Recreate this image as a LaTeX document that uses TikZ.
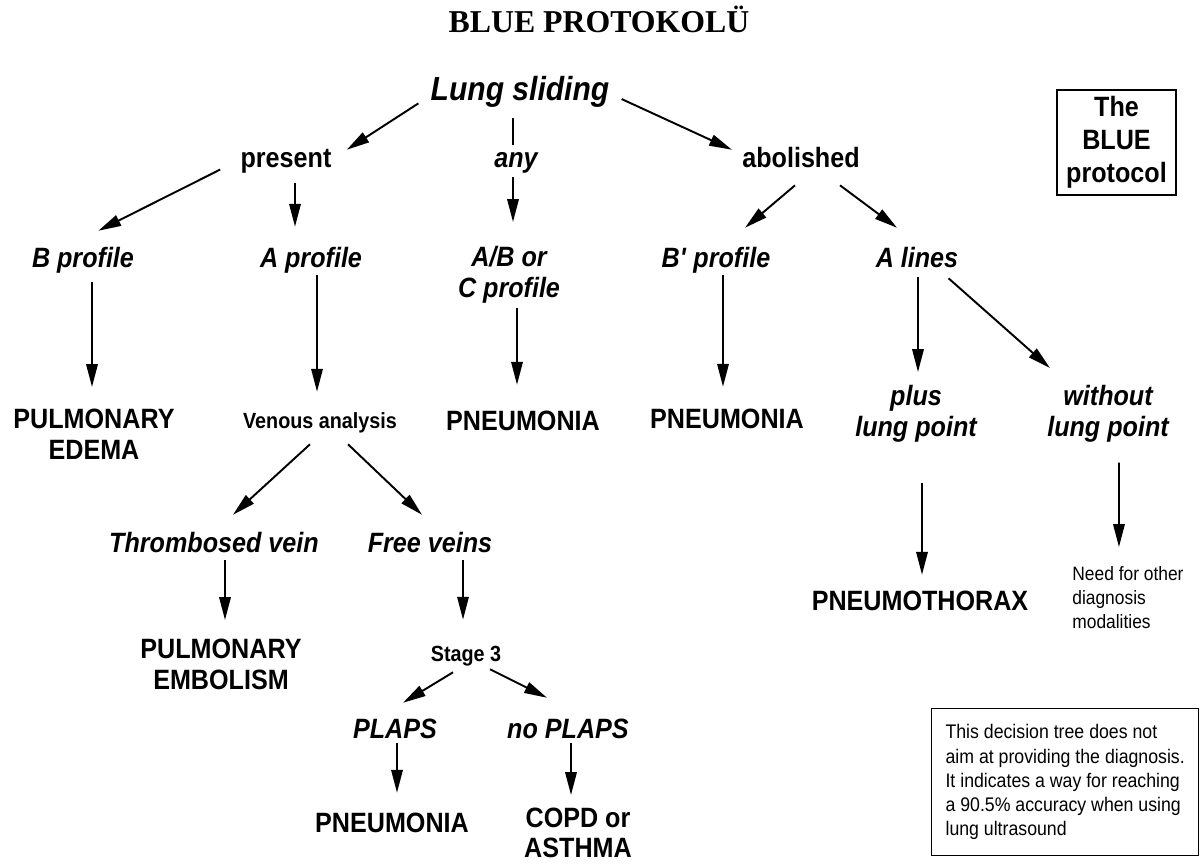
\documentclass[tikz,border=0pt]{standalone}
\usepackage{fontspec}
\usetikzlibrary{arrows.meta}
\newfontfamily\arialn[FakeStretch=0.9]{Liberation Sans}
\newfontfamily\timesr{Liberation Serif}

\begin{document}
\begin{tikzpicture}[x=0.02cm, y=-0.02cm,
    lbl/.style={inner sep=0pt, anchor=base, text height=11.9pt, text depth=3.4pt,
        font=\arialn\bfseries\fontsize{15.9}{17.6}\selectfont},
    lblit/.style={lbl, font=\arialn\bfseries\itshape\fontsize{15.9}{17.6}\selectfont},
    two/.style={inner sep=0pt, anchor=north, align=center,
        font=\arialn\bfseries\fontsize{15.9}{17.6}\selectfont},
    twoit/.style={two, font=\arialn\bfseries\itshape\fontsize{15.9}{17.6}\selectfont},
    sml/.style={inner sep=0pt, anchor=base, text height=9.1pt, text depth=2.8pt,
        font=\arialn\bfseries\fontsize{12.5}{15}\selectfont},
    arr/.style={line width=1.1pt, -{Triangle[length=13pt, width=6.5pt]}},
    ]
    \useasboundingbox (0,0) rectangle (1200,863);
    \node[anchor=base, inner sep=0pt, font=\timesr\bfseries\fontsize{18.1}{21}\selectfont] (title) at (599,32) {BLUE PROTOKOLÜ};
    % First levels
    \node[lblit, text height=14.2pt, text depth=4pt, font=\arialn\bfseries\itshape\fontsize{19}{22}\selectfont] (ls) at (520,100) {Lung sliding};
    \node[lbl] (present) at (286,167) {present}; \node[lblit] (any) at (516,167) {any}; \node[lbl] (abol) at (801,167) {abolished};
    \node[lblit] (bprof) at (83,267) {B profile}; \node[lblit] (aprof) at (311,267) {A profile};
    \node[twoit] (abprof) at (509,246) {A/B or\\C profile};
    \node[lblit] (bpprof) at (716,267) {B\textquotesingle{} profile}; \node[lblit] (alines) at (917,267) {A lines};
    % Middle
    \node[two] (pulmed) at (94,409) {PULMONARY\\EDEMA};
    \node[sml] (venous) at (320,428) {Venous analysis};
    \node[lbl] (pneua) at (523,430) {PNEUMONIA}; \node[lbl] (pneub) at (727,428) {PNEUMONIA};
    \node[twoit] (plus) at (916,385) {plus\\lung point}; \node[twoit] (without) at (1108,385) {without\\lung point};
    \node[lblit] (thromb) at (214,552) {Thrombosed vein}; \node[lblit] (free) at (430,552) {Free veins};
    \node[lbl] (pnx) at (920,610) {PNEUMOTHORAX};
    \node[inner sep=0pt, anchor=north west, align=left, font=\arialn\fontsize{11}{13.6}\selectfont] (need) at (1072,566) {Need for other\\diagnosis\\modalities};
    % Bottom
    \node[two] (pulmemb) at (221,639) {PULMONARY\\EMBOLISM};
    \node[sml] (stage) at (466,661) {Stage 3};
    \node[lblit] (plaps) at (395,738) {PLAPS}; \node[lblit] (noplaps) at (568,738) {no PLAPS};
    \node[lbl] (pneuc) at (392,832) {PNEUMONIA}; \node[two] (copd) at (578,808) {COPD or\\[-1pt]ASTHMA};
    % Boxes
    \node[draw, line width=0.8pt, minimum width=2.38cm, minimum height=2.1cm, inner sep=0pt, align=center,
        font=\arialn\bfseries\fontsize{15.9}{18.7}\selectfont] (blue) at (1116.5,142.5) {The\\BLUE\\protocol};
    \node[draw, line width=0.8pt, anchor=north west, minimum width=5.34cm, minimum height=2.94cm, align=left,
        font=\arialn\fontsize{11.2}{13.75}\selectfont] (note) at (931,708)
        {This decision tree does not\\aim at providing the diagnosis.\\It indicates a way for reaching\\a 90.5\% accuracy when using\\lung ultrasound};
    % Arrows
    \draw[arr] ([shift={(-12,-4)}]ls.south west) -- ([shift={(15,4)}]present.north east);
    \draw[line width=1.1pt] ([shift={(-7,11)}]ls.south) -- ([shift={(-3,-1)}]any.north);
    \draw[arr] ([shift={(-3,4)}]any.south) -- ([shift={(4,-24)}]abprof.north);
    \draw[arr] ([shift={(12,8)}]ls.east) -- ([shift={(-10,4)}]abol.north west);
    \draw[arr] ([shift={(-20,10)}]present.west) -- ([shift={(-36,-15)}]bprof.north east);
    \draw[arr] ([shift={(9,10)}]present.south) -- ([shift={(-16,-19)}]aprof.north);
    \draw[arr] ([shift={(-6,12)}]abol.south) -- ([shift={(29,-18)}]bpprof.north);
    \draw[arr] ([shift={(-20,12)}]abol.south east) -- ([shift={(-20,-18)}]alines.north);
    \draw[arr] ([shift={(9,9)}]bprof.south) -- ([shift={(-2,-22)}]pulmed.north);
    \draw[arr] ([shift={(6,2)}]aprof.south) -- ([shift={(-3,-20)}]venous.north);
    \draw[arr] ([shift={(8,4)}]abprof.south) -- ([shift={(-6,-24)}]pneua.north);
    \draw[arr] ([shift={(7,2)}]bpprof.south) -- ([shift={(-4,-20)}]pneub.north);
    \draw[arr] ([shift={(1,4)}]alines.south) -- ([shift={(2,-13)}]plus.north);
    \draw[arr] ([shift={(-10,5)}]alines.south east) -- ([shift={(3,-17)}]without.north west);
    \draw[arr] ([shift={(-10,11)}]venous.south) -- ([shift={(19,-16)}]thromb.north);
    \draw[arr] ([shift={(28,11)}]venous.south) -- ([shift={(-8,-16)}]free.north);
    \draw[arr] ([shift={(11,2)}]thromb.south) -- ([shift={(4,-19)}]pulmemb.north);
    \draw[arr] ([shift={(33,2)}]free.south) -- ([shift={(-3,-25)}]stage.north);
    \draw[arr] ([shift={(-13,6)}]stage.south) -- ([shift={(8,-14)}]plaps.north);
    \draw[arr] ([shift={(24,3)}]stage.south) -- ([shift={(-21,-19)}]noplaps.north);
    \draw[arr] ([shift={(2,-1)}]plaps.south) -- ([shift={(5,-18)}]pneuc.north);
    \draw[arr] ([shift={(3,-1)}]noplaps.south) -- ([shift={(-7,-13)}]copd.north);
    \draw[arr] ([shift={(6,40)}]plus.south) -- ([shift={(2,-14)}]pnx.north);
    \draw[arr] ([shift={(11,20)}]without.south) -- ([shift={(-9,-19)}]need.north);
\end{tikzpicture}
\end{document}
